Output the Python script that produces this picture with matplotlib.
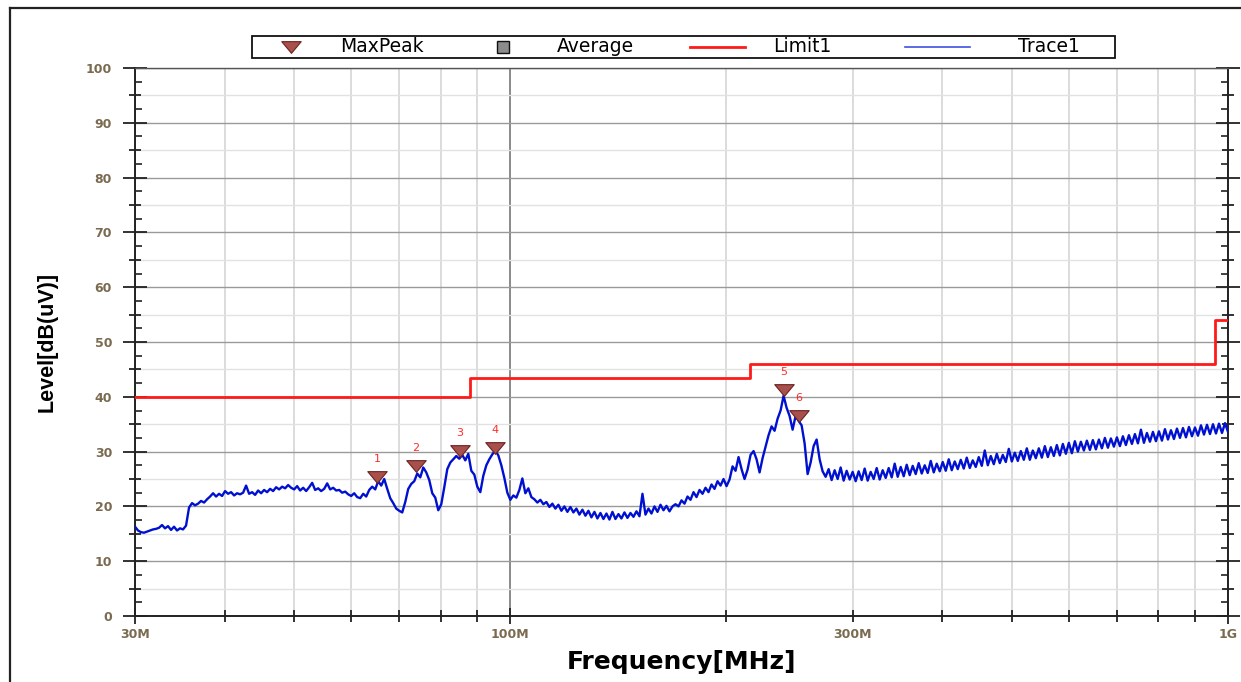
import numpy as np
import matplotlib
matplotlib.use("Agg")
import matplotlib.pyplot as plt
from matplotlib.lines import Line2D
from matplotlib.patches import Rectangle
from matplotlib.path import Path
from matplotlib.ticker import FixedLocator, FuncFormatter, NullFormatter

# Limit1 steps: band edges in MHz and the level that starts at each edge
limit_edges = [30, 88, 216, 960, 1000]
limit_levels = [40.0, 43.5, 46.0, 54.0, 54.0]

# MaxPeak markers
peak_ids = ["1", "2", "3", "4", "5", "6"]
peak_freq = [65.2, 73.9, 85.1, 95.2, 240.6, 252.6]
peak_level = [25.4, 27.4, 30.1, 30.7, 41.2, 36.5]

# Trace1 sweep, 30 MHz .. 1 GHz, levels in dB(uV)
trace_levels = [
    16.3, 15.6, 15.3, 15.2, 15.4, 15.6, 15.8, 15.9, 16.1, 16.6,
    16.0, 16.4, 15.7, 16.3, 15.6, 16.0, 15.8, 16.5, 19.8, 20.6,
    20.2, 20.5, 21.0, 20.7, 21.3, 21.8, 22.4, 21.8, 22.3, 21.9,
    22.8, 22.3, 22.6, 22.0, 22.4, 22.2, 22.5, 23.8, 22.3, 22.6,
    22.1, 22.9, 22.4, 23.0, 22.6, 23.2, 22.8, 23.5, 23.1, 23.6,
    23.3, 23.9, 23.4, 23.1, 23.7, 22.9, 23.4, 22.8, 23.5, 24.3,
    23.0, 23.3, 22.8, 23.2, 24.2, 23.1, 23.4, 22.9, 23.0, 22.5,
    22.7, 22.2, 21.9, 22.4, 21.7, 21.5, 22.3, 21.8, 23.0, 23.6,
    23.1, 24.6, 23.8, 25.0, 23.2, 21.5, 20.6, 19.6, 19.2, 18.9,
    20.8, 23.2, 24.1, 24.6, 26.0, 25.3, 27.1, 26.2, 24.8, 22.4,
    21.6, 19.3, 20.4, 23.5, 26.8, 28.0, 28.6, 29.2, 28.7, 29.4,
    28.4, 29.6, 26.5, 25.8, 23.6, 22.6, 25.6, 27.5, 28.6, 29.5,
    30.2, 29.3, 27.5, 25.2, 22.5, 21.2, 22.0, 21.6, 23.0, 25.1,
    22.4, 23.3, 21.7, 21.3, 20.7, 21.2, 20.4, 20.8, 19.9, 20.5,
    19.6, 20.3, 19.2, 20.0, 19.0, 19.9, 18.9, 19.6, 18.5, 19.4,
    18.3, 19.2, 18.0, 19.0, 17.8, 18.8, 17.7, 18.7, 17.6, 19.0,
    17.7, 18.6, 17.8, 18.9, 17.9, 18.8, 18.1, 19.1, 18.2, 22.3,
    18.5, 19.6, 18.7, 20.0, 19.0, 20.3, 19.3, 20.1, 19.1, 20.0,
    20.4, 20.0, 21.1, 20.5, 21.8, 21.2, 22.6, 21.7, 23.0, 22.3,
    23.4, 22.6, 24.0, 23.2, 24.6, 23.8, 25.0, 23.7, 24.9, 27.3,
    26.5, 29.0, 26.8, 25.0, 26.7, 29.4, 30.1, 28.6, 26.2, 28.8,
    30.9, 33.0, 34.6, 33.8, 36.0, 37.5, 40.2, 38.0, 36.5, 34.0,
    36.5, 35.6, 34.8, 31.5, 25.9, 28.0, 31.0, 32.2, 28.6, 26.4,
    25.4, 26.8, 24.8, 26.6, 25.0, 27.1, 24.7, 26.5, 24.9, 26.3,
    24.6, 26.4, 24.8, 26.9, 24.7, 26.3, 25.0, 27.0, 24.9, 26.6,
    25.2, 27.0, 25.3, 27.8, 25.4, 27.2, 25.5, 27.6, 25.7, 27.4,
    25.9, 27.9, 26.0, 27.5, 26.1, 28.3, 26.2, 27.8, 26.4, 28.1,
    26.5, 28.6, 26.6, 28.2, 26.8, 28.5, 26.9, 28.9, 27.0, 28.4,
    27.2, 29.0, 27.4, 30.2, 27.5, 29.2, 27.7, 29.6, 27.9, 29.4,
    28.1, 30.5, 28.2, 29.8, 28.3, 30.1, 28.5, 30.6, 28.5, 30.2,
    28.8, 30.6, 28.9, 31.0, 29.0, 30.8, 29.2, 31.2, 29.3, 31.4,
    29.6, 31.6, 29.7, 31.9, 30.0, 31.8, 30.2, 32.0, 30.3, 32.1,
    30.4, 32.2, 30.6, 32.5, 30.7, 32.4, 30.9, 32.6, 31.0, 32.8,
    31.2, 33.0, 31.4, 33.2, 31.5, 34.0, 31.6, 33.4, 31.8, 33.6,
    31.9, 33.7, 32.0, 34.1, 32.2, 33.9, 32.3, 34.2, 32.5, 34.3,
    32.6, 34.5, 32.8, 34.4, 32.9, 34.8, 33.1, 34.9, 33.2, 35.0,
    33.3, 35.1, 33.4, 35.2, 33.6,
]
trace_freq = np.geomspace(30, 1000, len(trace_levels))

x_major = [30, 100, 1000]
x_major_labels = ["30M", "100M", "1G"]
x_minor = [40, 50, 60, 70, 80, 90, 200, 300, 400, 500, 600, 700, 800, 900]
x_minor_labels = {300: "300M"}

legend_names = ["MaxPeak", "Average", "Limit1", "Trace1"]

TICK_COLOR = "#7a6a50"
FONT = "DejaVu Sans"
PEAK_FACE = "#a8504c"
PEAK_EDGE = "#6e2222"
LIMIT_RED = "#ff1a1a"
TRACE_BLUE = "#0010d0"

# flat, wide triangle used for the peak markers
tri = Path([(-1, 0.6), (1, 0.6), (0, -0.6), (-1, 0.6)],
           [Path.MOVETO, Path.LINETO, Path.LINETO, Path.CLOSEPOLY])

fig = plt.figure(figsize=(12.41, 6.82), dpi=100)
fig.patch.set_facecolor("white")
W, H = 1241, 682
ax = fig.add_axes([135 / W, 1 - 616 / H, (1228 - 135) / W, (616 - 68) / H])

ax.set_xscale("log")
ax.set_xlim(30, 1000)
ax.set_ylim(0, 100)

# grid
ax.xaxis.set_major_locator(FixedLocator(x_major))
ax.xaxis.set_minor_locator(FixedLocator(x_minor))
ax.yaxis.set_major_locator(FixedLocator(np.arange(0, 101, 10)))
ax.yaxis.set_minor_locator(FixedLocator(np.arange(5, 100, 10)))
ax.grid(which="major", axis="x", color="#8a8a8a", lw=1.4, zorder=0)
ax.grid(which="minor", axis="x", color="#dcdcdc", lw=1.4, zorder=0)
ax.grid(which="major", axis="y", color="#9a9a9a", lw=1.0, zorder=0)
ax.grid(which="minor", axis="y", color="#e2e2e2", lw=1.0, zorder=0)
ax.set_axisbelow(True)

# ticks and labels
ax.set_xticklabels(x_major_labels)
ax.xaxis.set_minor_formatter(FuncFormatter(lambda v, p: x_minor_labels.get(int(round(v)), "")))
ax.tick_params(axis="both", which="both", colors="#222222", width=1.3)
ax.tick_params(axis="x", which="both", labelsize=9, labelcolor=TICK_COLOR, pad=3)
ax.tick_params(axis="x", which="major", direction="inout", length=12)
ax.tick_params(axis="x", which="minor", direction="inout", length=8, pad=5)
ax.tick_params(axis="y", which="major", direction="inout", length=17, pad=8,
               labelsize=9, labelcolor=TICK_COLOR, right=True)
ax.tick_params(axis="y", which="minor", direction="inout", length=9, right=True)
ax.yaxis.set_minor_formatter(NullFormatter())
for lab in (ax.get_xticklabels() + ax.get_xticklabels(minor=True)
            + ax.get_yticklabels()):
    lab.set_fontweight("bold")
    lab.set_family(FONT)

# small inner ticks every 2.5 dB on both vertical axes
for side in ["left", "right"]:
    sec = ax.secondary_yaxis(side)
    sec.yaxis.set_major_locator(FixedLocator(np.arange(2.5, 100, 5)))
    sec.yaxis.set_major_formatter(NullFormatter())
    sec.tick_params(direction="in", length=5, width=1.2, colors="#222222")
    sec.spines[side].set_visible(False)

for side in ["left", "bottom", "right"]:
    ax.spines[side].set_color("#222222")
    ax.spines[side].set_linewidth(1.4)
ax.spines["top"].set_color("#555555")
ax.spines["top"].set_linewidth(1.0)

# limit line
ax.step(limit_edges, limit_levels, where="post", color=LIMIT_RED, lw=2.0,
        zorder=3)

# measured trace
ax.plot(trace_freq, trace_levels, color=TRACE_BLUE, lw=1.7, zorder=4)

# peak markers with their numbers
ax.plot(peak_freq, peak_level, ls="none", marker=tri, ms=14,
        mfc=PEAK_FACE, mec=PEAK_EDGE, mew=0.8, zorder=6)
for pid, f, lv in zip(peak_ids, peak_freq, peak_level):
    ax.annotate(pid, (f, lv), xytext=(0, 13), textcoords="offset points",
                ha="center", va="center", fontsize=8, color="#ff2a2a",
                family=FONT, zorder=7)

ax.set_xlabel("Frequency[MHz]", fontsize=18, fontweight="bold", family=FONT)
ax.xaxis.set_label_coords(0.5, (616 - 650) / 548)
ax.xaxis.label.set_va("top")
ax.set_ylabel("Level[dB(uV)]", fontsize=15.5, fontweight="bold",
              family="Liberation Sans")
ax.yaxis.set_label_coords((58 - 135) / 1093, 0.5)

# legend strip above the plot
def fx(px):
    return px / W

def fy(py):
    return 1 - py / H

ly = fy(46.5)
fig.add_artist(Rectangle((fx(252), fy(58)), fx(1115 - 252), 22 / H,
                         transform=fig.transFigure, fill=True, fc="white",
                         ec="#111111", lw=1.3))
fig.add_artist(Line2D([fx(291)], [ly], ls="none", marker=tri, ms=14,
                      mfc=PEAK_FACE, mec=PEAK_EDGE, mew=0.8,
                      transform=fig.transFigure))
fig.add_artist(Line2D([fx(503)], [ly], ls="none", marker="s", ms=8,
                      mfc="#8c8c8c", mec="#111111", mew=1.0,
                      transform=fig.transFigure))
fig.add_artist(Line2D([fx(690), fx(745)], [ly, ly], color=LIMIT_RED, lw=2.0,
                      transform=fig.transFigure))
fig.add_artist(Line2D([fx(905), fx(970)], [ly, ly], color="#4050e0", lw=1.2,
                      transform=fig.transFigure))
for name, px in zip(legend_names, [340, 557, 773, 1018]):
    fig.text(fx(px), ly, name, ha="left", va="center", fontsize=13.5,
             family=FONT)

# outer frame of the report panel
fig.add_artist(Line2D([10 / W, 1], [1 - 8 / H, 1 - 8 / H], color="#222222",
                      lw=1.6, transform=fig.transFigure))
fig.add_artist(Line2D([10 / W, 10 / W], [0, 1 - 8 / H], color="#222222",
                      lw=1.6, transform=fig.transFigure))

fig.savefig("out.png", dpi=100)
